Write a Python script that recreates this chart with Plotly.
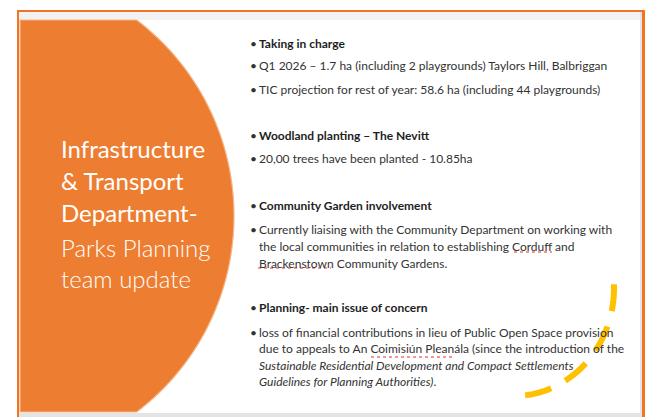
import numpy as np
import plotly.graph_objects as go

# ---- content ----
title_lines = ["Infrastructure", "& Transport", "Department-", "Parks Planning", "team update"]
title_weights = [400, 400, 400, 300, 300]

body_lines = [
    ("bullet", "<b>Taking in charge</b>"),
    ("bullet", "Q1 2026 – 1.7 ha (including 2 playgrounds) Taylors Hill, Balbriggan"),
    ("bullet", "TIC projection for rest of year: 58.6 ha (including 44 playgrounds)"),
    ("bullet", "<b>Woodland planting – The Nevitt</b>"),
    ("bullet", "20,00 trees have been planted - 10.85ha"),
    ("bullet", "<b>Community Garden involvement</b>"),
    ("bullet", "Currently liaising with the Community Department on working with"),
    ("cont", "the local communities in relation to establishing Corduff and"),
    ("cont", "Brackenstown Community Gardens."),
    ("bullet", "<b>Planning- main issue of concern</b>"),
    ("bullet", "loss of financial contributions in lieu of Public Open Space provision"),
    ("cont", "due to appeals to An Coimisiún Pleanála (since the introduction of the"),
    ("cont", "<i>Sustainable Residential Development and Compact Settlements</i>"),
    ("cont", "<i>Guidelines for Planning Authorities)</i>."),
]
body_y = [43, 65, 89, 135, 158, 205, 229, 246, 263, 307, 332, 348, 365, 381]
title_y = [148, 180, 212, 247, 278]

# spell-check underlines: (x0, x1, y)
squiggles = [(514, 552, 252), (258, 331, 268), (371, 410, 357), (413, 454, 357)]

ORANGE = "#ED7D31"
BORDER = "#F07422"
TEXT = "#333333"

fig = go.Figure()
fig.add_trace(go.Scatter(x=[0, 648], y=[0, 417], mode="markers",
                         marker=dict(opacity=0), hoverinfo="skip", showlegend=False))

shapes = []
# slide background pieces
shapes.append(dict(type="rect", x0=19, x1=640, y0=12, y1=20, fillcolor="#F2F2F2", line_width=0, layer="below"))
shapes.append(dict(type="rect", x0=640, x1=642, y0=12, y1=417, fillcolor="#E4E4E4", line_width=0, layer="below"))
shapes.append(dict(type="rect", x0=19, x1=642, y0=413, y1=417, fillcolor="#E4E4E4", line_width=0, layer="below"))
# orange border frame
shapes.append(dict(type="rect", x0=17, x1=19, y0=10, y1=417, fillcolor=BORDER, line_width=0))
shapes.append(dict(type="rect", x0=17, x1=645, y0=10, y1=12, fillcolor=BORDER, line_width=0))
shapes.append(dict(type="rect", x0=642, x1=645, y0=10, y1=417, fillcolor=BORDER, line_width=0))

# orange circle segment on the left
cx, cy, r = -12, 216, 246
ys = np.linspace(20, 412, 120)
xs = cx + np.sqrt(r ** 2 - (ys - cy) ** 2)
path = "M 20,20 " + " ".join(f"L {x:.2f},{y:.2f}" for x, y in zip(xs, ys)) + " L 20,412 Z"
shapes.append(dict(type="path", path=path, fillcolor=ORANGE, line=dict(color="#F3B88E", width=1.2)))

# spell-check squiggles
for x0, x1, y in squiggles:
    shapes.append(dict(type="line", x0=x0, x1=x1, y0=y, y1=y, line=dict(color="#E03030", width=1, dash="dot")))

# yellow dashed arc
acx, acy, rx, ry = 514, 288, 100, 108
ang = np.radians(np.linspace(-2, 91, 80))
ax_ = acx + rx * np.cos(ang)
ay_ = acy + ry * np.sin(ang)
apath = "M " + " L ".join(f"{x:.2f},{y:.2f}" for x, y in zip(ax_, ay_))
shapes.append(dict(type="path", path=apath, line=dict(color="#FFC000", width=6, dash="27px,16px")))

annotations = []
FONT = "Lato"
for line, y, w in zip(title_lines, title_y, title_weights):
    annotations.append(dict(x=59, y=y, xref="x", yref="y", text=line, showarrow=False,
                            xanchor="left", yanchor="middle",
                            font=dict(family=FONT, size=24, color="white", weight=w)))
for (kind, txt), y in zip(body_lines, body_y):
    if kind == "bullet":
        annotations.append(dict(x=248, y=y, xref="x", yref="y", text="•", showarrow=False,
                                xanchor="left", yanchor="middle",
                                font=dict(family=FONT, size=12, color=TEXT)))
    annotations.append(dict(x=257, y=y, xref="x", yref="y", text=txt, showarrow=False,
                            xanchor="left", yanchor="middle",
                            font=dict(family=FONT, size=12, color="#1E1E1E" if "<b>" in txt else TEXT)))

fig.update_layout(
    width=648, height=417, margin=dict(l=0, r=0, t=0, b=0),
    paper_bgcolor="white", plot_bgcolor="white",
    xaxis=dict(range=[0, 648], visible=False, fixedrange=True),
    yaxis=dict(range=[417, 0], visible=False, fixedrange=True),
    shapes=shapes, annotations=annotations, showlegend=False,
)
fig.write_html("out.html", config={"displayModeBar": False},
               post_script="document.body.style.margin='0';document.body.style.overflow='hidden';")
